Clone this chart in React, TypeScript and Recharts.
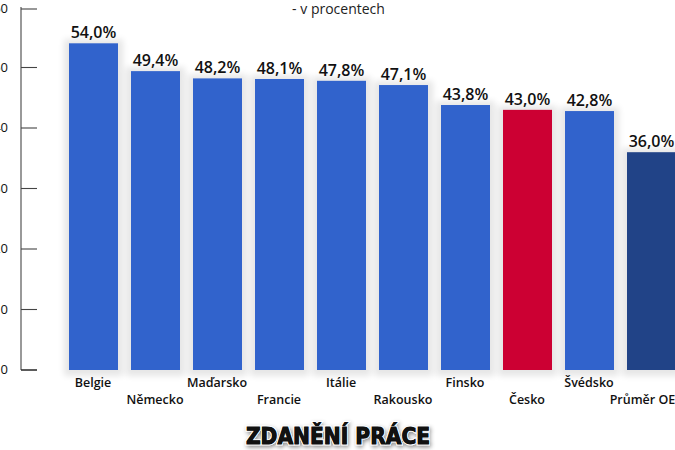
import React from "react";
import { BarChart, Bar, XAxis, YAxis, Cell, LabelList } from "recharts";

const categories = ["Belgie", "Německo", "Maďarsko", "Francie", "Itálie", "Rakousko", "Finsko", "Česko", "Švédsko", "Průměr OECD"];
const values = [54.0, 49.4, 48.2, 48.1, 47.8, 47.1, 43.8, 43.0, 42.8, 36.0];
const barColors = ["#3163CC", "#3163CC", "#3163CC", "#3163CC", "#3163CC", "#3163CC", "#3163CC", "#CC0033", "#3163CC", "#214387"];
const yTicks = [0, 10, 20, 30, 40, 50, 60];

const data = categories.map((name, i) => ({ name, value: values[i], color: barColors[i] }));

const FONT = "'Open Sans', 'Noto Sans', sans-serif";

const YTick = (props: any) => {
  const { x, y, payload } = props;
  return (
    <g>
      <line x1={x} x2={x + 16} y1={y} y2={y} stroke={payload.value === 0 ? "#333" : "#444"} strokeWidth={payload.value === 0 ? 1.6 : 1.1} />
      <text x={x - 13} y={y} dy={4} textAnchor="end" fontSize={13} fontFamily={FONT} fill="#111">
        {payload.value}
      </text>
    </g>
  );
};

const XTick = (props: any) => {
  const { x, y, payload, index } = props;
  const dy = index % 2 === 0 ? 9 : 26;
  return (
    <text x={x} y={y} dy={dy} textAnchor="middle" fontSize={12.5} fontWeight={600} fontFamily={FONT} fill="#111">
      {payload.value}
    </text>
  );
};

const ShadowBar = (props: any) => {
  const { x, y, width, height, fill } = props;
  if (height <= 0) return null;
  return <rect x={x} y={y} width={width} height={height} fill={fill} filter="url(#barShadow)" />;
};

const fmt = (v: any) => Number(v).toFixed(1).replace(".", ",") + "%";

export default function App() {
  return (
    <div style={{ position: "fixed", left: 0, top: 0, width: 675, height: 450, overflow: "hidden", background: "#fff" }}>
      <svg width={1} height={1} style={{ position: "absolute", left: 0, top: 0 }}>
        <defs>
          <filter id="barShadow" x="-60%" y="-20%" width="220%" height="140%" colorInterpolationFilters="sRGB">
            <feMorphology in="SourceAlpha" operator="dilate" radius="5" result="dil" />
            <feGaussianBlur in="dil" stdDeviation="3" result="blur" />
            <feOffset in="blur" dx="0" dy="1" result="off" />
            <feComponentTransfer in="off" result="sh">
              <feFuncA type="linear" slope="0.1" />
            </feComponentTransfer>
            <feMerge>
              <feMergeNode in="sh" />
              <feMergeNode in="SourceGraphic" />
            </feMerge>
          </filter>
          <filter id="titleShadow" x="-10%" y="-40%" width="120%" height="180%">
            <feDropShadow dx="1" dy="2" stdDeviation="2" floodColor="#000" floodOpacity="0.45" />
          </filter>
        </defs>
      </svg>
      <div style={{ position: "absolute", left: -40, top: 0 }}>
        <BarChart width={722} height={450} data={data} margin={{ top: 7, right: 0, bottom: 0, left: 0 }}>
          <XAxis
            dataKey="name"
            axisLine={false}
            tickLine={false}
            height={80}
            padding={{ left: 41, right: 0 }}
            interval={0}
            tick={<XTick />}
          />
          <YAxis
            width={61}
            domain={[0, 60]}
            ticks={yTicks}
            tickSize={0}
            tickMargin={0}
            tickLine={false}
            axisLine={{ stroke: "#555", strokeWidth: 1.2 }}
            tick={<YTick />}
          />
          <Bar dataKey="value" barSize={49} isAnimationActive={false} shape={<ShadowBar />}>
            {data.map((d, i) => (
              <Cell key={i} fill={d.color} />
            ))}
            <LabelList dataKey="value" position="top" offset={5} formatter={fmt} fontSize={16} fontWeight={600} fontFamily={FONT} fill="#111" />
          </Bar>
        </BarChart>
      </div>
      <div style={{ position: "absolute", left: 0, top: 0, width: 675, textAlign: "center", fontFamily: FONT, fontSize: 14, color: "#222", lineHeight: "17px", paddingLeft: 1 }}>
        - v procentech
      </div>
      <svg width={675} height={450} style={{ position: "absolute", left: 0, top: 0, pointerEvents: "none" }}>
        <text
          x={338}
          y={444}
          textAnchor="middle"
          fontFamily="'DejaVu Sans Condensed', 'DejaVu Sans', sans-serif"
          fontStretch="condensed"
          fontWeight={900}
          fontSize={22.5}
          fill="#111"
          stroke="#fff"
          strokeWidth={2.5}
          paintOrder="stroke"
          filter="url(#titleShadow)"
        >
          ZDANĚNÍ PRÁCE
        </text>
        <text
          x={338}
          y={444}
          textAnchor="middle"
          fontFamily="'DejaVu Sans Condensed', 'DejaVu Sans', sans-serif"
          fontStretch="condensed"
          fontWeight={900}
          fontSize={22.5}
          fill="#111"
          stroke="#111"
          strokeWidth={0.9}
        >
          ZDANĚNÍ PRÁCE
        </text>
      </svg>
    </div>
  );
}
